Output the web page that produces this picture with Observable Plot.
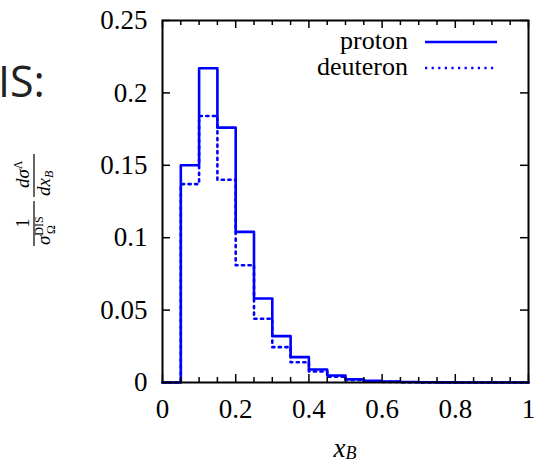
<!DOCTYPE html>
<html><head><meta charset="utf-8">
<script src="https://cdn.jsdelivr.net/npm/d3@7"></script>
<script src="https://cdn.jsdelivr.net/npm/@observablehq/plot@0.6"></script>
<style>
body{margin:0;background:#fff;}
#chart{position:relative;width:536px;height:462px;overflow:hidden;background:#fff;}
</style></head><body><div id="chart"></div>
<script>
// Bin left edges (width 0.05) plus final right edge
const binEdges = [0,0.05,0.1,0.15,0.2,0.25,0.3,0.35,0.4,0.45,0.5,0.55,0.6,0.65,0.7,0.75,0.8,0.85,0.9,0.95,1.0];
const proton   = [0,0.150,0.217,0.176,0.104,0.058,0.032,0.0175,0.009,0.0048,0.0022,0.0012,0.0006,0.0003,0.0002,0.0001,0,0,0,0];
const deuteron = [0,0.137,0.184,0.140,0.081,0.044,0.0244,0.014,0.0076,0.004,0.0018,0.0009,0.0004,0.0002,0.0001,0,0,0,0,0];
const seriesNames = ["proton","deuteron"];
const xTicksMajor = [0,0.2,0.4,0.6,0.8,1];
const xTickLabels = ["0","0.2","0.4","0.6","0.8","1"];
const xTicksMinor = [0.05,0.1,0.15,0.25,0.3,0.35,0.45,0.5,0.55,0.65,0.7,0.75,0.85,0.9,0.95];
const yTicks = [0,0.05,0.1,0.15,0.2,0.25];
const yTickLabels = ["0","0.05","0.1","0.15","0.2","0.25"];

function steps(vals){
  const pts = vals.map((v,i)=>({x:binEdges[i], y:v}));
  pts.push({x:binEdges[vals.length], y:vals[vals.length-1]});
  return pts;
}

const W=536,H=462,mL=162,mR=8,mT=20,mB=80;
const plotH=H-mT-mB, plotW=W-mL-mR;
const FONT="'Liberation Serif', 'Times New Roman', serif";
const BLUE="#0000ff";
const DOTS="2.2,4.4";

const chart = Plot.plot({
  width:W, height:H, marginLeft:mL, marginRight:mR, marginTop:mT, marginBottom:mB,
  x:{domain:[0,1]}, y:{domain:[0,0.25]},
  style:{fontFamily:FONT, fontSize:"27px", background:"white", color:"black", overflow:"visible"},
  marks:[
    Plot.line(steps(deuteron), {x:"x", y:"y", curve:"step-after", stroke:BLUE, strokeWidth:2.6, strokeDasharray:DOTS}),
    Plot.line(steps(proton), {x:"x", y:"y", curve:"step-after", stroke:BLUE, strokeWidth:2.6}),
    Plot.tickX(xTicksMajor, {x:d=>d, insetTop:plotH-8, stroke:"black", strokeWidth:1.5}),
    Plot.tickX(xTicksMajor, {x:d=>d, insetBottom:plotH-8, stroke:"black", strokeWidth:1.5}),
    Plot.tickX(xTicksMinor, {x:d=>d, insetTop:plotH-5, stroke:"black", strokeWidth:1.5}),
    Plot.tickX(xTicksMinor, {x:d=>d, insetBottom:plotH-5, stroke:"black", strokeWidth:1.5}),
    Plot.tickY(yTicks, {y:d=>d, insetRight:plotW-8, stroke:"black", strokeWidth:1.5}),
    Plot.tickY(yTicks, {y:d=>d, insetLeft:plotW-8, stroke:"black", strokeWidth:1.5}),
    Plot.frame({stroke:"black", strokeWidth:2}),
    Plot.axisX({ticks:xTicksMajor, tickFormat:d=>xTickLabels[xTicksMajor.indexOf(d)], tickSize:0, tickPadding:16.5, label:null, fontSize:27}),
    Plot.axisY({ticks:yTicks, tickFormat:d=>yTickLabels[yTicks.indexOf(d)], tickSize:0, tickPadding:15, label:null, fontSize:27})
  ]
});
document.getElementById("chart").appendChild(chart);

const svg = d3.select(chart);
const xs = chart.scale("x");

// x-axis label
const xl = svg.append("text").attr("x", xs.apply(0.5)).attr("y", 456.5)
  .attr("text-anchor","middle").style("font-family",FONT).style("font-size","27px");
xl.append("tspan").attr("font-style","italic").text("x");
xl.append("tspan").attr("font-style","italic").attr("font-size","18px").attr("dy",2).text("B");

// Legend
const legY=[42,68];
seriesNames.forEach((name,i)=>{
  svg.append("text").attr("x",408).attr("y",legY[i]+7).attr("text-anchor","end")
    .style("font-family",FONT).style("font-size","26px").text(name);
  svg.append("line").attr("x1",425).attr("x2",497).attr("y1",legY[i]).attr("y2",legY[i])
    .attr("stroke",BLUE).attr("stroke-width",2.6).attr("stroke-dasharray", i===1?DOTS:null);
});

// "IS:" fragment
svg.append("text").attr("x",-2).attr("y",97).attr("text-anchor","start")
  .style("font-family","'Open Sans', 'DejaVu Sans', sans-serif")
  .style("font-size","43px").attr("fill","#222").text("IS:");

// Y-axis label (rotated fraction)
const g = svg.append("g").attr("transform","translate(37,200) rotate(-90)")
  .attr("text-anchor","start")
  .style("font-family",FONT).style("font-size","19px");
// 1 / sigma_Omega^DIS
g.append("text").attr("x",-23).attr("y",-8).attr("text-anchor","middle").text("1");
g.append("line").attr("x1",-46).attr("x2",-1).attr("y1",-3).attr("y2",-3).attr("stroke","black").attr("stroke-width",1.2);
const den1 = g.append("text").attr("x",-45).attr("y",13).attr("text-anchor","start");
den1.append("tspan").attr("font-style","italic").text("σ");
den1.append("tspan").attr("font-size","12px").attr("dy",-7).text("DIS");
den1.append("tspan").attr("font-size","12px").attr("x",-34).attr("dy",12).text("Ω");
// d sigma^Lambda / d x_B
const num2 = g.append("text").attr("x",12).attr("y",-8).attr("text-anchor","start");
num2.append("tspan").attr("font-style","italic").text("dσ");
num2.append("tspan").attr("font-size","12px").attr("dy",-7).text("Λ");
g.append("line").attr("x1",3).attr("x2",46).attr("y1",-3).attr("y2",-3).attr("stroke","black").attr("stroke-width",1.2);
const den2 = g.append("text").attr("x",4).attr("y",13).attr("text-anchor","start");
den2.append("tspan").attr("font-style","italic").text("dx");
den2.append("tspan").attr("font-style","italic").attr("font-size","12px").attr("dy",3).text("B");
</script>
</body></html>
